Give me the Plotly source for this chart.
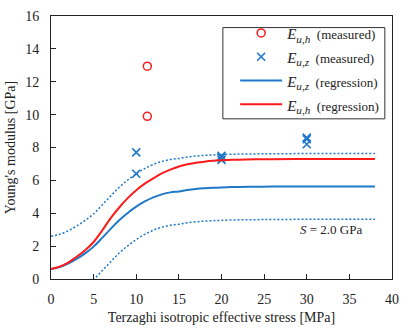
import plotly.graph_objects as go

# measured points
xh = [11.3, 11.3]
eh = [12.95, 9.9]
xz = [10, 10, 20, 20, 20, 30, 30, 30]
ez = [7.7, 6.4, 7.5, 7.25, 7.4, 8.6, 8.5, 8.2]

# regression curves
xr = [0, 1, 2, 3, 4, 5, 6, 7, 8, 9, 10, 11, 12, 13, 14, 15, 16, 17, 18, 19, 20,
      22, 24, 26, 30, 34, 38]
ez_reg = [0.60, 0.72, 0.93, 1.22, 1.56, 1.97, 2.50, 3.05, 3.58, 4.02, 4.40, 4.72,
          4.97, 5.15, 5.27, 5.33, 5.42, 5.48, 5.52, 5.55, 5.57, 5.60, 5.61, 5.62,
          5.63, 5.63, 5.63]
eh_reg = [0.60, 0.75, 1.00, 1.35, 1.75, 2.25, 2.95, 3.70, 4.35, 4.92, 5.40, 5.80,
          6.12, 6.42, 6.65, 6.84, 6.98, 7.07, 7.14, 7.19, 7.22, 7.26, 7.28, 7.29,
          7.30, 7.30, 7.30]
S = 2.0

red = "#FF1A1A"
blue = "#1F78C8"
font = "Liberation Serif"


def label(sub, kind):
    return ("<span style='font-size:15px'><i>E</i></span><sub><i>" + sub + "</i></sub>"
            "<span style='font-size:13px'>&nbsp;&nbsp;(" + kind + ")</span>")


upper = [v + S for v in ez_reg]
lower = [v - S for v in ez_reg]

fig = go.Figure()
fig.add_trace(go.Scatter(x=xr, y=upper, mode="lines", showlegend=False,
                         line=dict(color=blue, width=1.5, dash="2px,2px", shape="spline")))
fig.add_trace(go.Scatter(x=xr, y=lower, mode="lines", showlegend=False,
                         line=dict(color=blue, width=1.5, dash="2px,2px", shape="spline")))
fig.add_trace(go.Scatter(x=xh, y=eh, mode="markers", name=label("u,h", "measured"),
                         marker=dict(symbol="circle-open", size=8, color=red,
                                     line=dict(width=1.5, color=red))))
fig.add_trace(go.Scatter(x=xz, y=ez, mode="markers", name=label("u,z", "measured"),
                         marker=dict(symbol="x-thin", size=8, color=blue,
                                     line=dict(width=1.6, color=blue))))
fig.add_trace(go.Scatter(x=xr, y=ez_reg, mode="lines", name=label("u,z", "regression"),
                         line=dict(color=blue, width=2, shape="spline")))
fig.add_trace(go.Scatter(x=xr, y=eh_reg, mode="lines", name=label("u,h", "regression"),
                         line=dict(color=red, width=2, shape="spline")))

fig.add_annotation(x=32.8, y=3.0, text="<i>S</i> = 2.0 GPa", showarrow=False,
                   font=dict(family=font, size=13, color="#222"))

# legend frame
fig.add_shape(type="rect", xref="paper", yref="paper", x0=0.504, x1=0.979,
              y0=0.609, y1=0.956, line=dict(color="#333", width=1),
              fillcolor="white", layer="below")

axis = dict(showgrid=False, zeroline=False, showline=True, linecolor="#222",
            linewidth=1, mirror=True, ticks="inside", ticklen=5, tickcolor="#222",
            tickfont=dict(family=font, size=14, color="#222"))

fig.update_layout(
    width=415, height=332,
    margin=dict(l=51, r=23, t=9, b=49),
    plot_bgcolor="white", paper_bgcolor="white",
    xaxis=dict(axis, range=[0, 40], dtick=5, ticklabelstandoff=7,
               title=dict(text="Terzaghi isotropic effective stress [MPa]",
                          font=dict(family=font, size=14, color="#222"), standoff=6)),
    yaxis=dict(axis, range=[0, 16], dtick=2, ticklabelstandoff=8,
               title=dict(text="Young's modulus [GPa]",
                          font=dict(family=font, size=14, color="#222"), standoff=6)),
    legend=dict(x=0.54, y=1.0, xanchor="left", yanchor="top",
                borderwidth=0, bgcolor="rgba(0,0,0,0)",
                font=dict(family=font, size=16, color="#222"),
                tracegroupgap=0, itemwidth=42),
    showlegend=True,
)

fig.write_html("out.html", config={"displayModeBar": False},
               post_script="document.body.style.margin='0';")
